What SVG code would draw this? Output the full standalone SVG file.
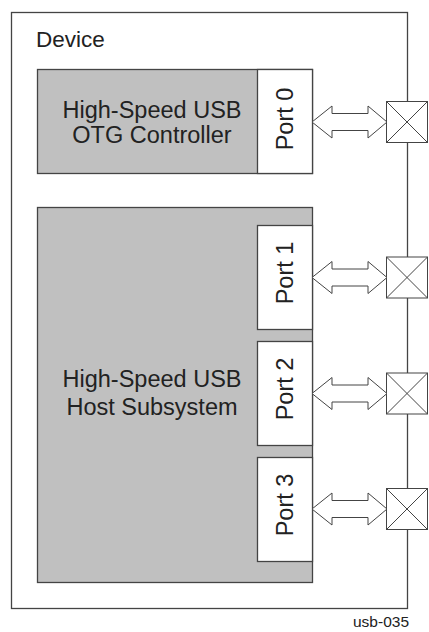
<svg xmlns="http://www.w3.org/2000/svg" width="429" height="632" viewBox="0 0 429 632">
<defs>
<style>
text{font-family:"Liberation Sans",Arial,sans-serif;fill:#222}
.big{font-size:23.5px}
.blk{fill:#c0c0c0;stroke:#444;stroke-width:1.3}
.port{fill:#fff;stroke:#444;stroke-width:1.3}
.dev{fill:#fff;stroke:#444;stroke-width:1.3}
.arr{fill:#fff;stroke:#444;stroke-width:1}
.pad{fill:#fff;stroke:#444;stroke-width:1}
</style>
<polygon id="dbl" class="arr" points="0,0 20,-16 20,-8.5 56,-8.5 56,-16 75,0 56,16 56,8.5 20,8.5 20,16"/>
<g id="padshape"><rect class="pad" x="-20.5" y="-20.5" width="41" height="41"/><path d="M-20.5,-20.5L20.5,20.5M20.5,-20.5L-20.5,20.5" stroke="#444" stroke-width="1" fill="none"/></g>
</defs>
<rect width="429" height="632" fill="#fff"/>
<g id="device">
<rect class="dev" x="11.5" y="12.5" width="396" height="596"/>
<text x="36" y="47" font-size="22.5">Device</text>
</g>
<g id="otg">
<rect class="blk" x="37.5" y="69.5" width="275" height="104"/>
<text class="big" x="152" y="118" text-anchor="middle">High-Speed USB</text>
<text class="big" x="152" y="143" text-anchor="middle">OTG Controller</text>
</g>
<g id="port0">
<rect class="port" x="257.5" y="69.5" width="55" height="104"/>
<text class="big" transform="translate(293,119) rotate(-90)" text-anchor="middle">Port 0</text>
</g>
<g id="host">
<rect class="blk" x="37.5" y="207.5" width="275" height="375"/>
<text class="big" x="152" y="387" text-anchor="middle">High-Speed USB</text>
<text class="big" x="152" y="415" text-anchor="middle">Host Subsystem</text>
</g>
<g id="port1">
<rect class="port" x="257.5" y="225.5" width="55" height="104"/>
<text class="big" transform="translate(293,273) rotate(-90)" text-anchor="middle">Port 1</text>
</g>
<g id="port2">
<rect class="port" x="257.5" y="341.5" width="55" height="104"/>
<text class="big" transform="translate(293,389) rotate(-90)" text-anchor="middle">Port 2</text>
</g>
<g id="port3">
<rect class="port" x="257.5" y="457.5" width="55" height="104"/>
<text class="big" transform="translate(293,505) rotate(-90)" text-anchor="middle">Port 3</text>
</g>
<g id="pad0"><use href="#padshape" x="407" y="122"/></g>
<g id="pad1"><use href="#padshape" x="407" y="277.5"/></g>
<g id="pad2"><use href="#padshape" x="407" y="393.5"/></g>
<g id="pad3"><use href="#padshape" x="407" y="509"/></g>
<g id="connectors">
<use href="#dbl" x="312" y="122"/>
<use href="#dbl" x="312" y="277.5"/>
<use href="#dbl" x="312" y="393.5"/>
<use href="#dbl" x="312" y="509"/>
</g>
<text x="409" y="627" font-size="15.5" text-anchor="end">usb-035</text>
</svg>
